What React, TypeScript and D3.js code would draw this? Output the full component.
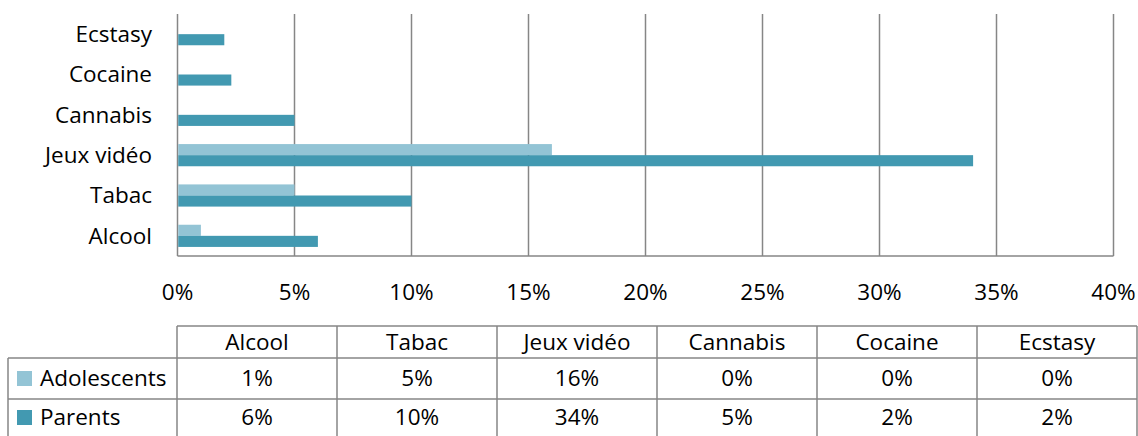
import React, { useEffect, useRef } from "react";
import * as d3 from "d3";

const categories = ["Alcool", "Tabac", "Jeux vidéo", "Cannabis", "Cocaine", "Ecstasy"];
const seriesNames = ["Adolescents", "Parents"];
const adolescents = [0.01, 0.05, 0.16, 0, 0, 0];
const parents = [0.06, 0.1, 0.34, 0.05, 0.023, 0.02];
const xTicks = [0, 0.05, 0.1, 0.15, 0.2, 0.25, 0.3, 0.35, 0.4];
const colors = ["#93c4d5", "#4299b1"];

const FONT = "'Open Sans', sans-serif";
const FS = "22.5px";

export default function App() {
  const ref = useRef<SVGSVGElement>(null);

  useEffect(() => {
    drawChart();
  }, []);

  function drawChart() {
    const svg = d3.select(ref.current);
    svg.selectAll("*").remove();

    const left = 177.5;
    const right = 1113.5;
    const top = 14;
    const bottom = 256;

    const x = d3.scaleLinear().domain([0, 0.4]).range([left, right]);
    // categories listed bottom to top
    const y = d3
      .scaleBand()
      .domain([...categories].reverse())
      .range([top, bottom])
      .paddingInner(0.45)
      .paddingOuter(0.225);
    const ySub = d3.scaleBand().domain(seriesNames).range([0, y.bandwidth()]);

    const g = svg.append("g").style("font-family", FONT).style("font-size", FS);

    // gridlines
    g.selectAll(".grid")
      .data(xTicks)
      .enter()
      .append("line")
      .attr("x1", (d) => x(d))
      .attr("x2", (d) => x(d))
      .attr("y1", top)
      .attr("y2", bottom)
      .attr("stroke", "#868686")
      .attr("stroke-width", 1.5);

    g.append("line")
      .attr("x1", left)
      .attr("x2", right)
      .attr("y1", bottom)
      .attr("y2", bottom)
      .attr("stroke", "#868686")
      .attr("stroke-width", 1.5);

    const series = [adolescents, parents];
    series.forEach((vals, si) => {
      g.selectAll(".bar" + si)
        .data(categories)
        .enter()
        .append("rect")
        .attr("x", x(0) + 0.75)
        .attr("y", (c) => (y(c) as number) + (ySub(seriesNames[si]) as number))
        .attr("width", (c, i) => Math.max(0, x(vals[i]) - x(0) - 0.75))
        .attr("height", ySub.bandwidth())
        .attr("fill", colors[si]);
    });

    // category labels
    g.selectAll(".cat")
      .data(categories)
      .enter()
      .append("text")
      .attr("x", 152)
      .attr("y", (c) => (y(c) as number) + y.bandwidth() / 2)
      .attr("dy", "0.35em")
      .attr("text-anchor", "end")
      .attr("fill", "#000")
      .text((c) => c);

    // x tick labels
    g.selectAll(".tick")
      .data(xTicks)
      .enter()
      .append("text")
      .attr("x", (d) => x(d))
      .attr("y", 292)
      .attr("dy", "0.35em")
      .attr("text-anchor", "middle")
      .text((d) => d3.format(".0%")(d));

    // data table
    const colX = d3.scaleBand().domain(categories).range([177, 1137]);
    const rowsY = [326, 358, 399, 440];
    const tableLeft = 8;
    const line = (x1: number, y1: number, x2: number, y2: number) =>
      g.append("line")
        .attr("x1", x1)
        .attr("y1", y1)
        .attr("x2", x2)
        .attr("y2", y2)
        .attr("stroke", "#868686")
        .attr("stroke-width", 1.5);

    line(177, rowsY[0], 1137, rowsY[0]);
    line(tableLeft, rowsY[1], 1137, rowsY[1]);
    line(tableLeft, rowsY[2], 1137, rowsY[2]);
    line(tableLeft, rowsY[1], tableLeft, rowsY[3]);
    categories.forEach((c) => {
      line(colX(c) as number, rowsY[0], colX(c) as number, rowsY[3]);
    });
    line(1137, rowsY[0], 1137, rowsY[3]);

    g.selectAll(".head")
      .data(categories)
      .enter()
      .append("text")
      .attr("x", (c) => (colX(c) as number) + colX.bandwidth() / 2)
      .attr("y", (rowsY[0] + rowsY[1]) / 2)
      .attr("dy", "0.35em")
      .attr("text-anchor", "middle")
      .text((c) => c);

    series.forEach((vals, si) => {
      const cy = (rowsY[si + 1] + rowsY[si + 2] - (si === 1 ? 4 : 0)) / 2;
      g.append("rect")
        .attr("x", 17)
        .attr("y", cy - 7.5)
        .attr("width", 15)
        .attr("height", 15)
        .attr("fill", colors[si]);
      g.append("text")
        .attr("x", 40)
        .attr("y", cy)
        .attr("dy", "0.35em")
        .text(seriesNames[si]);
      g.selectAll(".val" + si)
        .data(categories)
        .enter()
        .append("text")
        .attr("x", (c) => (colX(c) as number) + colX.bandwidth() / 2)
        .attr("y", cy)
        .attr("dy", "0.35em")
        .attr("text-anchor", "middle")
        .text((c, i) => d3.format(".0%")(vals[i]));
    });
  }

  return (
    <svg
      ref={ref}
      width={1138}
      height={436}
      style={{ position: "absolute", left: 0, top: 0, background: "#fff" }}
    />
  );
}
